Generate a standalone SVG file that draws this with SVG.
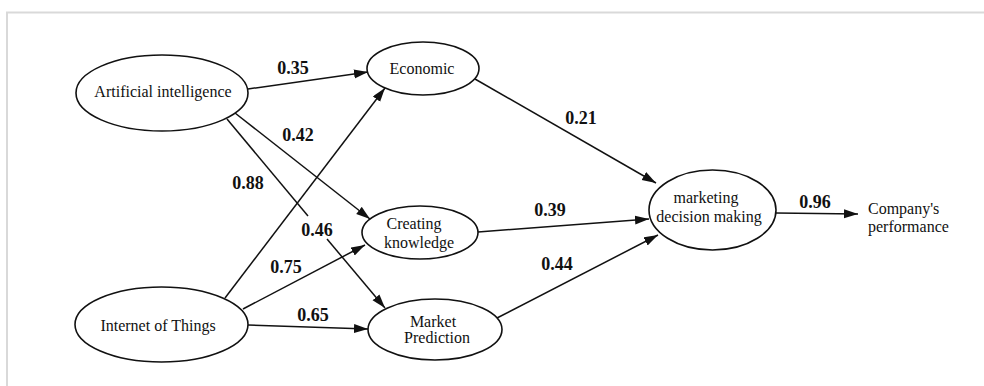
<svg xmlns="http://www.w3.org/2000/svg" width="984" height="386" viewBox="0 0 984 386">
<style>
.node ellipse{fill:#fff;stroke:#111;stroke-width:1.6}
.node text{font-family:"Liberation Serif","Times New Roman",serif;font-size:16px;fill:#111;text-anchor:middle}
.lbl{font-family:"Liberation Serif","Times New Roman",serif;font-size:18px;font-weight:bold;fill:#111;text-anchor:middle}
.conn line{stroke:#111;stroke-width:1.5;fill:none}
.conn line.a{marker-end:url(#arr)}
</style>
<defs>
<marker id="arr" markerUnits="userSpaceOnUse" markerWidth="15" markerHeight="10" refX="14" refY="4.5" orient="auto">
<path d="M0,0 L14,4.5 L0,9 z" fill="#111"/>
</marker>
</defs>
<rect width="984" height="386" fill="#fff"/>
<path d="M7,386 V12.5 H984" fill="none" stroke="#d9d9d9" stroke-width="2"/>
<g id="connectors" class="conn">
<line class="a" x1="248" y1="89" x2="368" y2="72"/>
<line class="a" x1="235" y1="113" x2="370" y2="219"/>
<line x1="227" y1="119" x2="308" y2="216"/>
<line class="a" x1="327" y1="239" x2="385" y2="308"/>
<line class="a" x1="225" y1="298" x2="385" y2="88"/>
<line class="a" x1="243" y1="309" x2="365" y2="245"/>
<line class="a" x1="248" y1="325" x2="368" y2="329"/>
<line class="a" x1="475" y1="79" x2="656" y2="183"/>
<line class="a" x1="478" y1="232" x2="649" y2="219"/>
<line class="a" x1="497" y1="318" x2="658" y2="235"/>
<line class="a" x1="776" y1="213" x2="858" y2="214"/>
</g>
<g id="labels">
<text class="lbl" x="293" y="74">0.35</text>
<text class="lbl" x="298" y="141">0.42</text>
<text class="lbl" x="248" y="189">0.88</text>
<text class="lbl" x="317" y="236">0.46</text>
<text class="lbl" x="286" y="273">0.75</text>
<text class="lbl" x="313" y="321">0.65</text>
<text class="lbl" x="581" y="124">0.21</text>
<text class="lbl" x="550" y="216">0.39</text>
<text class="lbl" x="557" y="270">0.44</text>
<text class="lbl" x="815" y="208">0.96</text>
</g>
<g id="ai" class="node">
<ellipse cx="162" cy="93" rx="86" ry="38"/>
<text x="163" y="97">Artificial intelligence</text>
</g>
<g id="iot" class="node">
<ellipse cx="161.5" cy="324.5" rx="86.5" ry="37.5"/>
<text x="158" y="331">Internet of Things</text>
</g>
<g id="economic" class="node">
<ellipse cx="423" cy="68.5" rx="56" ry="26.5"/>
<text x="422" y="74">Economic</text>
</g>
<g id="creating" class="node">
<ellipse cx="420" cy="232.5" rx="58" ry="26.5"/>
<text x="414" y="229">Creating</text>
<text x="419" y="247.5">knowledge</text>
</g>
<g id="market" class="node">
<ellipse cx="435" cy="329.5" rx="67" ry="30.5"/>
<text x="433" y="326.5">Market</text>
<text x="437" y="343">Prediction</text>
</g>
<g id="mdm" class="node">
<ellipse cx="712.5" cy="210" rx="63.5" ry="40"/>
<text x="706" y="203">marketing</text>
<text x="709" y="222">decision making</text>
</g>
<g id="company" class="node">
<text x="868" y="214" style="text-anchor:start">Company's</text>
<text x="868" y="231.5" style="text-anchor:start">performance</text>
</g>
</svg>
